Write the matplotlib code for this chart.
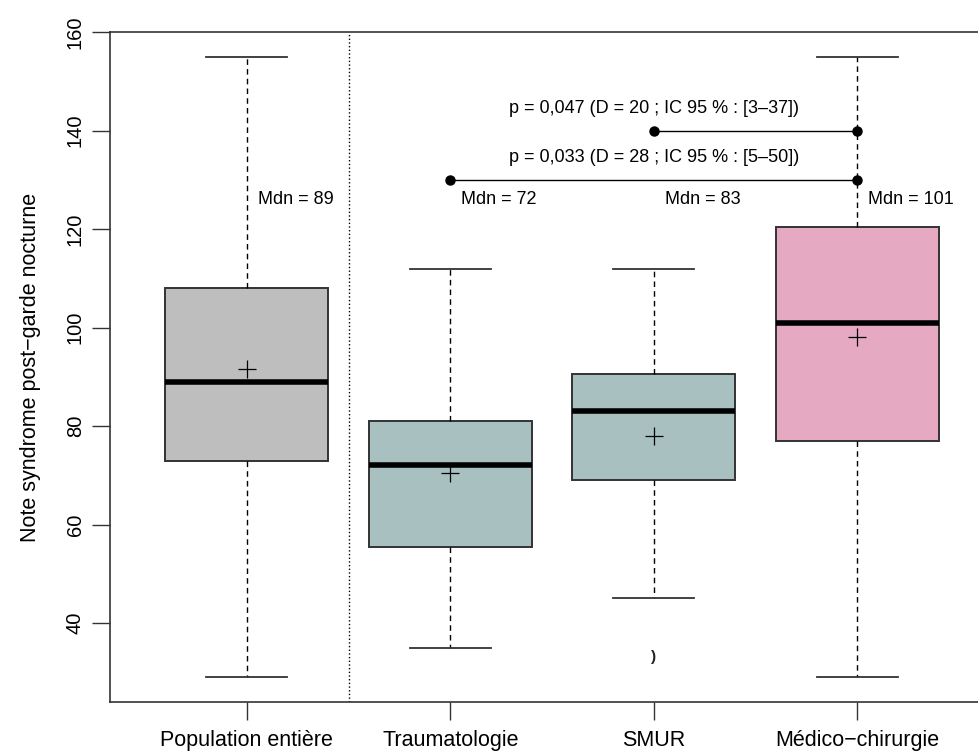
import matplotlib
matplotlib.use("Agg")
import matplotlib.pyplot as plt

plt.rcParams['font.family'] = ['Liberation Sans', 'DejaVu Sans']

# groupes et statistiques
groupes = ['Population entière', 'Traumatologie', 'SMUR', 'Médico\u2212chirurgie']
wlow = [29, 35, 45, 29]
q1 = [73, 55.5, 69, 77]
med = [89, 72, 83, 101]
q3 = [108, 81, 90.5, 120.5]
whigh = [155, 112, 112, 155]
moyennes = [91.5, 70.5, 78, 98]
outliers = [[], [], [33], []]
couleurs = ['#BEBEBE', '#A9C0C1', '#A9C0C1', '#E5AAC2']

# comparaisons (groupe a, groupe b, hauteur, texte)
comparaisons = [
    (2, 4, 130, 'p = 0,033 (D = 28 ; IC 95 % : [5\u201350])'),
    (3, 4, 140, 'p = 0,047 (D = 20 ; IC 95 % : [3\u201337])'),
]

fig = plt.figure(figsize=(9.79, 7.52), dpi=100)
ax = fig.add_axes([110/979, 50/752, 1 - 110/979, 670/752])

stats = []
for i in range(len(groupes)):
    stats.append(dict(whislo=wlow[i], q1=q1[i], med=med[i], q3=q3[i],
                      whishi=whigh[i], fliers=[], label=groupes[i]))

pos = [1, 2, 3, 4]
bp = ax.bxp(stats, positions=pos, widths=0.8, patch_artist=True,
            showfliers=False,
            boxprops=dict(edgecolor='#333333', linewidth=1.4),
            medianprops=dict(color='black', linewidth=4, solid_capstyle='butt'),
            whiskerprops=dict(color='black', linewidth=1, linestyle=(0, (4, 3))),
            capprops=dict(color='#333333', linewidth=1.3),
            capwidths=0.4)
for patch, c in zip(bp['boxes'], couleurs):
    patch.set_facecolor(c)

# moyennes
ax.plot(pos, moyennes, linestyle='none', marker='+', markersize=13,
        markeredgewidth=0.9, color='black', zorder=5)

# valeur aberrante
for p, vals in zip(pos, outliers):
    for v in vals:
        ax.text(p, v, ')', ha='center', va='center', fontsize=11,
                fontweight='bold', color='#222222')

# médianes
for p, m in zip(pos, med):
    ax.text(p + 0.055, 126, 'Mdn = %d' % m, ha='left', va='center', fontsize=13)

# comparaisons
for a, b, h, txt in comparaisons:
    ax.plot([a, b], [h, h], color='black', linewidth=1, marker='o',
            markersize=6.5, zorder=4)
    ax.text(3, h + 4.5, txt, ha='center', va='center', fontsize=13)

# séparation
ax.axvline(1.5, color='black', linestyle=':', linewidth=1)

ax.set_xlim(0.328, 4.598)
ax.set_ylim(23.96, 160.04)
ax.set_yticks([40, 60, 80, 100, 120, 140, 160])
ax.set_yticklabels(['40', '60', '80', '100', '120', '140', '160'],
                   rotation=90, va='center', fontsize=14.5)
ax.set_xticks(pos)
ax.set_xticklabels(groupes, fontsize=15.5)
ax.tick_params(axis='both', length=13, width=1, color='#333333')
ax.tick_params(axis='y', pad=5)
ax.tick_params(axis='x', pad=7)
ax.set_ylabel('Note syndrome post\u2212garde nocturne', fontsize=15.5, labelpad=18)
ax.spines['right'].set_visible(False)
for s in ['left', 'top', 'bottom']:
    ax.spines[s].set_color('#333333')
    ax.spines[s].set_linewidth(1.2)

fig.savefig('out.png', dpi=100)
